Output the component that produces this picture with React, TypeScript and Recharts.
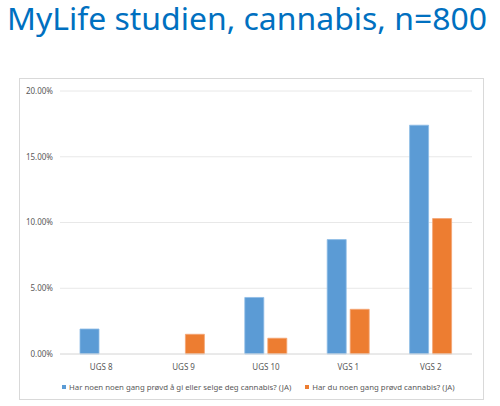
import { BarChart, Bar, XAxis, YAxis, CartesianGrid, Legend } from 'recharts'

const grades = ['UGS 8', 'UGS 9', 'UGS 10', 'VGS 1', 'VGS 2']
const offeredCannabis = [0.019, 0, 0.043, 0.087, 0.174]
const triedCannabis = [0, 0.015, 0.012, 0.034, 0.103]
const yTicks = [0, 0.05, 0.1, 0.15, 0.2]

const offeredLabel = 'Har noen noen gang prøvd å gi eller selge deg cannabis? (JA)'
const triedLabel = 'Har du noen gang prøvd cannabis? (JA)'

const BLUE = '#5B9BD5'
const ORANGE = '#ED7D31'
const FONT = '"Noto Sans", sans-serif'

const data = grades.map((name, i) => ({
  name,
  offered: offeredCannabis[i],
  tried: triedCannabis[i],
}))

const pct = (v: number) => `${(v * 100).toFixed(2)}%`

const renderLegend = () => (
  <div style={{ display: 'flex', paddingLeft: 42, fontFamily: FONT, fontSize: 7.8, color: '#595959', lineHeight: '16px', whiteSpace: 'nowrap' }}>
    {[{ label: offeredLabel, color: BLUE }, { label: triedLabel, color: ORANGE }].map((item) => (
      <span key={item.label} style={{ display: 'flex', alignItems: 'center', flexShrink: 0, marginRight: 14 }}>
        <span style={{ width: 4, height: 4, background: item.color, marginRight: 3 }} />
        {item.label}
      </span>
    ))}
  </div>
)

export default function App() {
  return (
    <div style={{ position: 'absolute', left: 0, top: 0, width: 500, height: 406, background: '#fff' }}>
      {/* title is set narrow and stretched vertically to get the condensed look */}
      <svg width={500} height={48} style={{ position: 'absolute', left: 0, top: 0 }}>
        <text x={7} y={25.6} transform="scale(1,1.17)" fill="#0070C0" fontFamily={FONT} fontSize={27} textLength={480} lengthAdjust="spacingAndGlyphs">
          MyLife studien, cannabis, n=800
        </text>
      </svg>
      <div style={{ position: 'absolute', left: 19, top: 78, width: 463, height: 320, border: '1px solid #d9d9d9' }}>
        <BarChart width={463} height={320} data={data} margin={{ top: 12, right: 11, left: 0, bottom: 4 }} barGap={4} barSize={19}>
          <CartesianGrid vertical={false} stroke="#e8e8e8" />
          <YAxis
            domain={[0, 0.2]}
            ticks={yTicks}
            tickFormatter={pct}
            width={40}
            axisLine={false}
            tickLine={false}
            tickSize={0}
            tickMargin={7}
            tick={{ fill: '#595959', fontSize: 8, fontFamily: FONT }}
          />
          <XAxis
            dataKey="name"
            height={25}
            axisLine={{ stroke: '#e0e0e0' }}
            tickLine={false}
            tickSize={0}
            tickMargin={10}
            tick={{ fill: '#595959', fontSize: 8, fontFamily: FONT }}
          />
          <Legend verticalAlign="bottom" content={renderLegend} />
          <Bar dataKey="offered" name={offeredLabel} fill={BLUE} stroke="#8dbbe6" strokeWidth={0.8} isAnimationActive={false} />
          <Bar dataKey="tried" name={triedLabel} fill={ORANGE} stroke="#f4a574" strokeWidth={0.8} isAnimationActive={false} />
        </BarChart>
      </div>
    </div>
  )
}
